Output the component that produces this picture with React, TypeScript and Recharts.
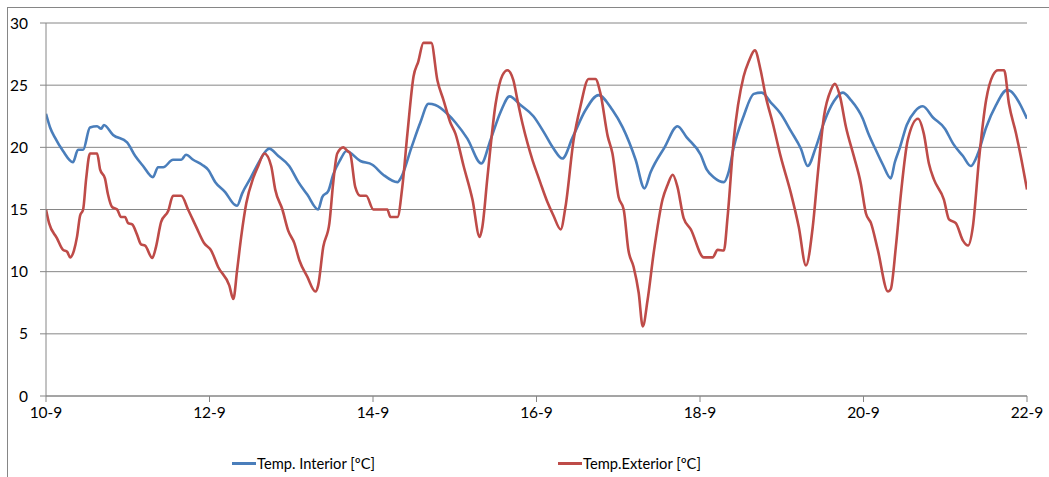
import React from 'react';
import { LineChart, Line, XAxis, YAxis, CartesianGrid, Legend } from 'recharts';

// hours since 10-9 00:00 and temperatures
const interiorHours = [
  0, 1.2, 2.6, 5, 7.9, 9.4, 10.9, 12.9, 15, 16.2, 17, 19.7, 23.8, 26.2, 28.5, 31.4, 32.9, 34.4,
  37.3, 39.7, 41.1, 43.2, 45.8, 47.6, 49.7, 52.6, 55.3, 56.1, 57.6, 60, 62.3, 64.9, 65.5, 68.2,
  71.4, 74.1, 76.7, 79.9, 81.1, 82.9, 84.3, 86.4, 88.2, 92.3, 95.8, 99, 103.2, 104.3, 107.3,
  109.9, 112.3, 114.3, 117.8, 120.2, 123.7, 127.8, 130.5, 133.4, 136.1, 139.3, 143.1, 146.4,
  149, 151.6, 154.6, 158.4, 162.2, 166.3, 169.3, 173.1, 175.7, 177.5, 181.6, 185.4, 188.1,
  192.2, 194, 196, 199, 200.4, 201.9, 204.8, 207.8, 210.1, 212.8, 215.7, 218.7, 221.6, 223.6,
  226, 228.4, 231.3, 233.9, 236.3, 239.8, 241.3, 243.6, 245.7, 248, 249.2, 250.7, 252.7, 255.1,
  257.4, 260.4, 263.9, 266.3, 269.2, 271.5, 273.6, 276, 278.9, 282.1, 283.3, 285.7, 288,
];
const interiorTemps = [
  22.7, 21.6, 20.8, 19.7, 18.8, 19.8, 19.8, 21.6, 21.7, 21.5, 21.8, 21.0, 20.4, 19.3, 18.5, 17.6,
  18.4, 18.4, 19.0, 19.0, 19.4, 19.0, 18.6, 18.2, 17.2, 16.4, 15.4, 15.3, 16.3, 17.5, 18.7, 19.8,
  19.9, 19.3, 18.5, 17.2, 16.2, 15.0, 16.0, 16.5, 17.8, 19.0, 19.7, 18.9, 18.6, 17.8, 17.2, 17.6,
  20.0, 22.0, 23.5, 23.4, 22.7, 22.0, 20.7, 18.7, 20.6, 22.8, 24.1, 23.4, 22.5, 21.1, 19.9, 19.1,
  20.8, 23.0, 24.2, 23.0, 21.6, 19.0, 16.7, 18.0, 20.0, 21.7, 20.8, 19.4, 18.2, 17.6, 17.2, 18.0,
  20.0, 22.5, 24.3, 24.4, 23.6, 22.7, 21.3, 19.9, 18.5, 20.0, 22.0, 23.7, 24.4, 23.8, 22.3, 21.2,
  19.8, 18.6, 17.5, 18.8, 20.0, 21.8, 22.9, 23.3, 22.4, 21.5, 20.3, 19.3, 18.5, 19.5, 21.6, 23.4,
  24.6, 24.5, 23.6, 22.3,
];

const exteriorHours = [
  0, 0.9, 3.2, 5, 6.2, 7.1, 8.2, 9.1, 10, 10.9, 11.8, 12.9, 15, 15.9, 17.3, 18.2, 19.4, 20.9, 22,
  23.2, 24.1, 25.3, 26.7, 27.9, 29.1, 31.2, 32.3, 33.8, 35.9, 37.3, 39.7, 41.7, 44.1, 46.4, 48.5,
  50.5, 53.8, 55, 56.1, 57.3, 58.8, 60.8, 62.3, 64.1, 66.1, 67.3, 69.4, 71.1, 72.9, 74.4, 76.7,
  79.1, 79.9, 81.4, 83.2, 84.3, 85.5, 87.3, 88.5, 89.3, 90.8, 92.3, 94, 96.1, 100.2, 101.1, 103.2,
  104.6, 106.1, 107.9, 109.3, 110.8, 113.1, 114.9, 116.7, 118.7, 120.2, 122.6, 125.2, 127.3,
  128.1, 129.6, 132, 134, 135.5, 137.2, 138.4, 139.9, 141.4, 142.8, 144.3, 145.2, 147.2, 149,
  151.1, 152.5, 154.9, 156.9, 159.3, 161.3, 162.8, 164.9, 166.3, 168.1, 169.6, 171, 172.5, 174,
  175.2, 176.6, 178.4, 181, 182.5, 184, 185.4, 187.2, 189.3, 193.1, 195.7, 197.2, 199, 200.1,
  201.9, 204.8, 206.3, 208.1, 209.8, 211.3, 213.4, 215.7, 218.7, 221, 223.1, 225.1, 226.6, 228.4,
  230.4, 231.6, 233.1, 234.8, 237.2, 239.2, 240.7, 242.2, 244.2, 247.2, 248, 249.5, 251, 253,
  256, 257.7, 259.2, 260.7, 263.6, 265.1, 267.1, 269.2, 270.7, 272.1, 273.9, 276, 278, 279.5,
  281.3, 282.7, 284.8, 286.2, 288,
];
const exteriorTemps = [
  15.0, 13.9, 12.7, 11.75, 11.6, 11.15, 11.7, 12.8, 14.5, 15.0, 17.5, 19.5, 19.5, 18.2, 17.5, 16.2,
  15.2, 15.0, 14.4, 14.4, 13.9, 13.8, 13.0, 12.2, 12.1, 11.1, 12.0, 14.0, 14.9, 16.1, 16.1, 15.0,
  13.6, 12.3, 11.7, 10.4, 8.9, 7.8, 10.1, 12.8, 15.5, 17.5, 18.5, 19.5, 18.5, 16.6, 15.0, 13.3,
  12.3, 10.9, 9.6, 8.4, 8.9, 12.0, 13.9, 17.1, 19.5, 20.0, 19.7, 19.5, 16.8, 16.1, 16.1, 15.0,
  15.0, 14.4, 14.4, 16.8, 21.1, 25.7, 26.9, 28.4, 28.4, 25.4, 23.8, 22.0, 21.1, 18.5, 15.8, 12.8,
  13.6, 17.6, 23.5, 25.8, 26.2, 25.4, 23.8, 21.9, 20.3, 19.0, 17.8, 17.1, 15.6, 14.5, 13.4, 15.2,
  20.6, 23.3, 25.5, 25.5, 24.3, 20.9, 19.5, 16.0, 15.0, 11.7, 10.4, 8.3, 5.6, 7.7, 11.5, 15.8,
  17.0, 17.8, 16.8, 14.3, 13.4, 11.15, 11.15, 11.75, 11.7, 14.4, 20.6, 25.7, 26.9, 27.8, 26.2,
  24.1, 21.9, 19.25, 16.3, 13.6, 10.5, 13.6, 17.9, 22.5, 24.6, 25.1, 24.1, 21.7, 19.25, 17.1,
  14.7, 13.9, 11.75, 8.4, 8.6, 12.0, 16.3, 20.6, 22.3, 21.1, 18.7, 17.4, 15.8, 14.2, 13.9, 12.5,
  12.1, 13.6, 19.0, 23.8, 25.8, 26.2, 26.2, 23.5, 21.1, 19.25, 16.6,
];

const tickHours = [0, 48, 96, 144, 192, 240, 288];
const tickLabels = ['10-9', '12-9', '14-9', '16-9', '18-9', '20-9', '22-9'];
const yTicks = [0, 5, 10, 15, 20, 25, 30];

const seriesNames = ['Temp. Interior [ºC]', 'Temp.Exterior [ºC]'];
const BLUE = '#4a7ebb';
const RED = '#be4b48';

const interiorData = interiorHours.map((h, i) => ({ h, t: interiorTemps[i] }));
const exteriorData = exteriorHours.map((h, i) => ({ h, t: exteriorTemps[i] }));

const font = 'Lato, "Open Sans", sans-serif';

const LegendRow = () => (
  <div style={{ position: 'relative', height: 20, fontFamily: font, fontSize: 14.7, color: '#000' }}>
    {[
      { name: seriesNames[0], color: BLUE, left: 232 },
      { name: seriesNames[1], color: RED, left: 558 },
    ].map((it) => (
      <div key={it.name} style={{ position: 'absolute', left: it.left, top: 0, display: 'flex', alignItems: 'center', height: 20 }}>
        <span style={{ display: 'inline-block', width: 24, height: 3, background: it.color }} />
        <span style={{ marginLeft: 1, whiteSpace: 'nowrap' }}>{it.name}</span>
      </div>
    ))}
  </div>
);

export default function App() {
  return (
    <div style={{ position: 'absolute', left: 0, top: 0, width: 1049, height: 477, overflow: 'hidden', background: '#fff' }}>
      <div style={{ position: 'absolute', left: 7, top: 7, width: 1200, height: 600, border: '1px solid #868686' }} />
      <LineChart
        width={1049}
        height={477}
        margin={{ top: 23, right: 22, bottom: 31, left: 10 }}
        style={{ position: 'absolute', left: 0, top: 0 }}
      >
        <CartesianGrid horizontal vertical={false} stroke="#868686" />
        <XAxis
          type="number"
          dataKey="h"
          domain={[0, 288]}
          ticks={tickHours}
          tickFormatter={(v) => tickLabels[tickHours.indexOf(v)] ?? ''}
          stroke="#868686"
          tickSize={6}
          tick={{ fill: '#000', fontSize: 15.5, fontFamily: font }}
          tickMargin={5}
          height={30}
          allowDataOverflow
        />
        <YAxis
          type="number"
          domain={[0, 30]}
          ticks={yTicks}
          stroke="#868686"
          width={36}
          tickSize={6}
          tickMargin={12}
          tick={{ fill: '#000', fontSize: 15.5, fontFamily: font }}
        />
        <Legend
          verticalAlign="bottom"
          height={20}
          content={() => <LegendRow />}
          wrapperStyle={{ left: 0, top: 453, width: 1049, height: 20 }}
        />
        <Line
          data={interiorData}
          dataKey="t"
          name={seriesNames[0]}
          type="monotone"
          stroke={BLUE}
          strokeWidth={2.6}
          dot={false}
          isAnimationActive={false}
        />
        <Line
          data={exteriorData}
          dataKey="t"
          name={seriesNames[1]}
          type="monotone"
          stroke={RED}
          strokeWidth={2.6}
          dot={false}
          isAnimationActive={false}
        />
      </LineChart>
    </div>
  );
}
